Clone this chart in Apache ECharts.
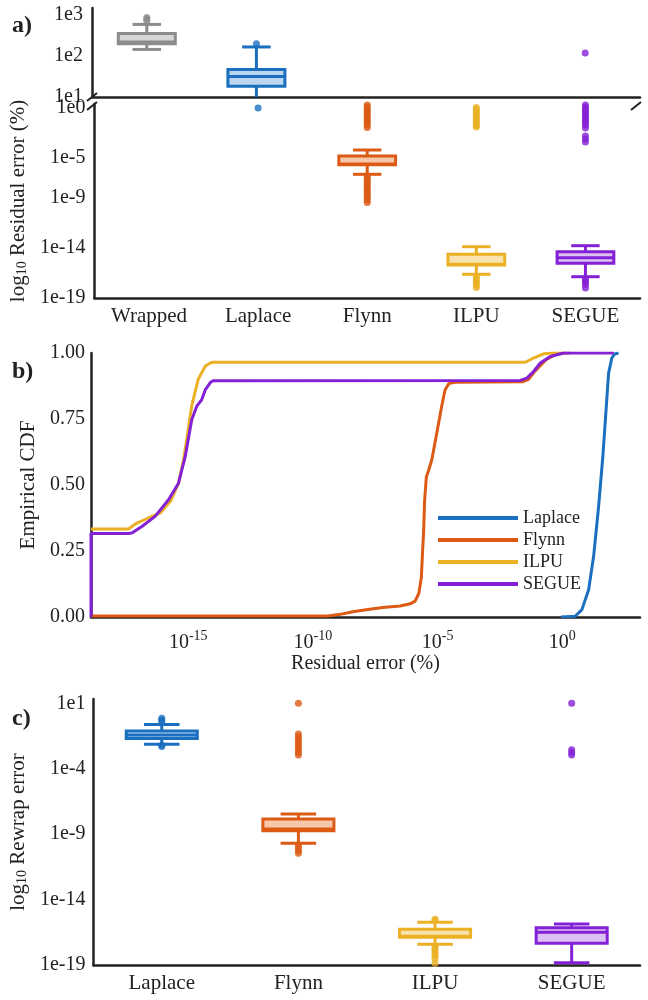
<!DOCTYPE html>
<html>
<head>
<meta charset="utf-8">
<title>Residual and rewrap error</title>
<script src="https://cdn.jsdelivr.net/npm/echarts@6/dist/echarts.min.js"></script>
<style>
  html, body { margin: 0; padding: 0; background: #fff; }
  #chart { width: 648px; height: 1000px; }
</style>
</head>
<body>
<div id="chart"></div>
<script>
// every value below is log10 of the error
const methodsA = ['Wrapped', 'Laplace', 'Flynn', 'ILPU', 'SEGUE'];
const methodsC = ['Laplace', 'Flynn', 'ILPU', 'SEGUE'];

// a) residual error, [low whisker, Q1, median, Q3, high whisker]
const residWrapped = [2.16, 2.30, 2.34, 2.55, 2.77];
const residLaplace = [0.7, 1.26, 1.50, 1.67, 2.22];
const residFlynn = [-6.63, -5.67, -5.6, -4.8, -4.2];
const residILPU = [-16.63, -15.7, -15.62, -14.63, -13.87];
const residSEGUE = [-16.87, -15.53, -14.97, -14.37, -13.77];

const residOutWrapped = [2.86, 2.90, 2.94];
const residOutLaplace = [2.30, 0.0];
const residOutFlynn = [0.3, 0.1, -0.1, -0.3, -0.5, -0.7, -0.9, -1.1, -1.3, -1.5, -1.7, -1.95,
  -6.8, -7.0, -7.2, -7.4, -7.6, -7.8, -8.0, -8.2, -8.4, -8.6, -8.8, -9.0, -9.2, -9.45];
const residOutILPU = [0.05, -0.15, -0.35, -0.55, -0.75, -0.95, -1.15, -1.35, -1.55, -1.75, -1.9,
  -16.9, -17.1, -17.3, -17.5, -17.7, -17.95];
const residOutSEGUE = [2.07, 0.3, 0.1, -0.1, -0.3, -0.5, -0.7, -0.9, -1.1, -1.3, -1.5, -1.7, -2.0,
  -2.8, -3.1, -3.4, -17.05, -17.25, -17.45, -17.65, -18.0];

// b) empirical CDF, x = log10 residual error
const cdfLaplaceX = [-0.05, 0.52, 0.79, 1.06, 1.26, 1.46, 1.63, 1.77, 1.86, 1.99, 2.1, 2.26];
const cdfLaplaceY = [0.0, 0.003, 0.028, 0.103, 0.23, 0.419, 0.608, 0.80, 0.924, 0.981, 0.996, 1.0];
const cdfFlynnX = [-18.9, -9.4, -8.9, -8.4, -7.8, -7.2, -6.5, -6.1, -5.9, -5.75, -5.65, -5.6, -5.56, -5.52,
  -5.45, -5.36, -5.23, -5.03, -4.83, -4.7, -4.55, -4.3, -1.6, -1.35, -1.15, -0.95, -0.65, -0.3, 0.1, 0.3];
const cdfFlynnY = [0.004, 0.004, 0.01, 0.02, 0.028, 0.036, 0.042, 0.05, 0.06, 0.09, 0.15, 0.25, 0.32, 0.44,
  0.53, 0.555, 0.596, 0.697, 0.80, 0.86, 0.884, 0.889, 0.891, 0.9, 0.925, 0.945, 0.975, 0.993, 1.0, 1.0];
const cdfILPUX = [-18.9, -17.4, -17.06, -16.6, -16.12, -15.7, -15.39, -15.2, -15.06, -14.86, -14.6, -14.32,
  -14.1, -13.99, -1.48, -1.15, -0.75, -0.35, 0.07];
const cdfILPUY = [0.333, 0.333, 0.356, 0.375, 0.394, 0.44, 0.507, 0.59, 0.672, 0.80, 0.9, 0.95,
  0.963, 0.965, 0.965, 0.981, 0.997, 1.0, 1.0];
const cdfSEGUEX = [-18.9, -18.9, -17.4, -17.26, -16.86, -16.33, -15.79, -15.39, -15.12, -14.86, -14.65, -14.46,
  -14.32, -14.1, -13.99, -1.68, -1.42, -1.15, -0.88, -0.48, 0.05, 2.07];
const cdfSEGUEY = [0.0, 0.316, 0.316, 0.318, 0.343, 0.381, 0.444, 0.507, 0.608, 0.747, 0.80, 0.823,
  0.86, 0.89, 0.895, 0.896, 0.905, 0.93, 0.962, 0.987, 1.0, 1.0];

// c) rewrap error
const rewrapLaplace = [-2.13, -1.68, -1.42, -1.12, -0.61];
const rewrapFlynn = [-9.70, -8.73, -8.6, -7.84, -7.46];
const rewrapILPU = [-17.42, -16.88, -16.8, -16.27, -15.74];
const rewrapSEGUE = [-18.82, -17.34, -16.5, -16.15, -15.87];

const rewrapOutLaplace = [-0.15, -0.28, -0.4, -2.2, -2.3];
const rewrapOutFlynn = [1.0, -1.35, -1.55, -1.75, -1.95, -2.15, -2.35, -2.55, -2.75, -2.95,
  -9.85, -10.05, -10.25, -10.45];
const rewrapOutILPU = [-15.5, -15.6, -17.55, -17.7, -17.85, -18.0, -18.15, -18.3, -18.5, -18.87];
const rewrapOutSEGUE = [1.0, -2.55, -2.75, -2.95];

const yTicksATop = [1, 2, 3];
const yTicksABottom = [0, -5, -9, -14, -19];
const xTicksB = [-15, -10, -5, 0];
const yTicksC = [1, -4, -9, -14, -19];

// stroke, box fill
const colors = {
  Wrapped: ['#8c8c8c', '#d6d6d6'],
  Laplace: ['#1a6fbf', '#bcd6ef'],
  Flynn: ['#dc5a14', '#f6c7ab'],
  ILPU: ['#ebb024', '#f8e2ae'],
  SEGUE: ['#8420d6', '#dcc0f3'],
};

const FONT = '"Liberation Serif", "DejaVu Serif", serif';
const INK = '#222';

function boxSeries(name, stats, axis, cats) {
  const [stroke, fill] = colors[name];
  return {
    type: 'custom',
    xAxisIndex: axis,
    yAxisIndex: axis,
    clip: true,
    z: 3,
    data: [[cats.indexOf(name)].concat(stats)],
    encode: { x: 0, y: [1, 2, 3, 4, 5] },
    renderItem: (params, api) => {
      const x = api.value(0);
      const lo = api.coord([x, api.value(1)]);
      const q1 = api.coord([x, api.value(2)]);
      const md = api.coord([x, api.value(3)]);
      const q3 = api.coord([x, api.value(4)]);
      const hi = api.coord([x, api.value(5)]);
      const band = api.size([1, 0])[0];
      const bw = band * 0.52;
      const cw = bw * 0.5;
      const cx = lo[0];
      const seg = (x1, y1, x2, y2) => ({
        type: 'line', shape: { x1, y1, x2, y2 }, style: { stroke, lineWidth: 3 },
      });
      return {
        type: 'group',
        children: [
          seg(cx, q3[1], cx, hi[1]),
          seg(cx - cw / 2, hi[1], cx + cw / 2, hi[1]),
          seg(cx, q1[1], cx, lo[1]),
          seg(cx - cw / 2, lo[1], cx + cw / 2, lo[1]),
          {
            type: 'rect',
            shape: { x: cx - bw / 2, y: q3[1], width: bw, height: q1[1] - q3[1] },
            style: { fill, stroke, lineWidth: 3 },
          },
          seg(cx - bw / 2, md[1], cx + bw / 2, md[1]),
        ],
      };
    },
  };
}

function outlierSeries(name, values, axis, cats) {
  return {
    type: 'scatter',
    xAxisIndex: axis,
    yAxisIndex: axis,
    symbolSize: 7,
    z: 4,
    itemStyle: { color: colors[name][0] },
    data: values.map((v) => [cats.indexOf(name), v]),
  };
}

function cdfSeries(name, xs, ys) {
  return {
    name,
    type: 'line',
    xAxisIndex: 2,
    yAxisIndex: 2,
    showSymbol: false,
    symbol: 'none',
    z: 3,
    color: colors[name][0],
    lineStyle: { width: 3, color: colors[name][0] },
    data: xs.map((x, i) => [x, ys[i]]),
  };
}

const axisLine = { show: true, onZero: false, lineStyle: { color: INK, width: 2.5 } };
const labelStyle = { color: INK, fontFamily: FONT, fontSize: 20 };
const subName = {
  rich: {
    base: { fontFamily: FONT, fontSize: 21, color: INK, verticalAlign: 'bottom' },
    sub: { fontFamily: FONT, fontSize: 14, color: INK, verticalAlign: 'top', padding: [9, 0, 0, 0] },
  },
};

const boxesA = [
  ['Wrapped', residWrapped, residOutWrapped],
  ['Laplace', residLaplace, residOutLaplace],
  ['Flynn', residFlynn, residOutFlynn],
  ['ILPU', residILPU, residOutILPU],
  ['SEGUE', residSEGUE, residOutSEGUE],
];
const boxesC = [
  ['Laplace', rewrapLaplace, rewrapOutLaplace],
  ['Flynn', rewrapFlynn, rewrapOutFlynn],
  ['ILPU', rewrapILPU, rewrapOutILPU],
  ['SEGUE', rewrapSEGUE, rewrapOutSEGUE],
];

const series = [];
[0, 1].forEach((axis) => {
  boxesA.forEach(([name, stats, outs]) => {
    series.push(boxSeries(name, stats, axis, methodsA));
    series.push(outlierSeries(name, outs, axis, methodsA));
  });
});
series.push(cdfSeries('Laplace', cdfLaplaceX, cdfLaplaceY));
series.push(cdfSeries('Flynn', cdfFlynnX, cdfFlynnY));
series.push(cdfSeries('ILPU', cdfILPUX, cdfILPUY));
series.push(cdfSeries('SEGUE', cdfSEGUEX, cdfSEGUEY));
boxesC.forEach(([name, stats, outs]) => {
  series.push(boxSeries(name, stats, 3, methodsC));
  series.push(outlierSeries(name, outs, 3, methodsC));
});

const chart = echarts.init(document.getElementById('chart'), null, { renderer: 'canvas' });

chart.setOption({
  animation: false,
  backgroundColor: '#fff',
  textStyle: { fontFamily: FONT, color: INK },
  grid: [
    { left: 92, right: 8, top: 8, height: 89 },
    { left: 92, right: 8, top: 104, height: 194 },
    { left: 91, right: 8, top: 353, height: 264 },
    { left: 90, right: 8, top: 699, height: 266 },
  ],
  xAxis: [
    {
      gridIndex: 0, type: 'category', data: methodsA,
      axisLine, axisTick: { show: false }, axisLabel: { show: false },
    },
    {
      gridIndex: 1, type: 'category', data: methodsA,
      axisLine, axisTick: { show: false },
      axisLabel: { ...labelStyle, fontSize: 21, margin: 8 },
    },
    {
      gridIndex: 2, type: 'value', min: -18.9, max: 3.12,
      axisLine, axisTick: { show: false }, splitLine: { show: false },
      axisLabel: {
        customValues: xTicksB,
        margin: 12,
        formatter: (v) => '{base|10}{sup|' + v + '}',
        rich: {
          base: { fontFamily: FONT, fontSize: 20, color: INK, verticalAlign: 'bottom' },
          sup: { fontFamily: FONT, fontSize: 14, color: INK, verticalAlign: 'bottom', padding: [0, 0, 10, 0] },
        },
      },
      name: 'Residual error (%)',
      nameLocation: 'middle',
      nameGap: 36,
      nameTextStyle: labelStyle,
    },
    {
      gridIndex: 3, type: 'category', data: methodsC,
      axisLine, axisTick: { show: false },
      axisLabel: { ...labelStyle, fontSize: 21, margin: 8 },
    },
  ],
  yAxis: [
    {
      gridIndex: 0, type: 'value', min: 1, max: 3.17,
      axisLine, axisTick: { show: false }, splitLine: { show: false },
      axisLabel: { ...labelStyle, margin: 9, customValues: yTicksATop, formatter: (v) => '1e' + v },
    },
    {
      gridIndex: 1, type: 'value', min: -19, max: 0.4,
      axisLine, axisTick: { show: false }, splitLine: { show: false },
      axisLabel: { ...labelStyle, margin: 9, customValues: yTicksABottom, formatter: (v) => '1e' + v },
      name: '{base|log}{sub|10}{base| Residual error (%)}',
      nameLocation: 'middle',
      nameGap: 64,
      nameTextStyle: subName,
    },
    {
      gridIndex: 2, type: 'value', min: 0, max: 1, interval: 0.25,
      axisLine, axisTick: { show: false }, splitLine: { show: false },
      axisLabel: { ...labelStyle, margin: 6, formatter: (v) => v.toFixed(2) },
      name: 'Empirical CDF',
      nameLocation: 'middle',
      nameGap: 43,
      nameTextStyle: { ...labelStyle, fontSize: 21 },
    },
    {
      gridIndex: 3, type: 'value', min: -19, max: 1.33,
      axisLine, axisTick: { show: false }, splitLine: { show: false },
      axisLabel: { ...labelStyle, margin: 8, customValues: yTicksC, formatter: (v) => '1e' + v },
      name: '{base|log}{sub|10}{base| Rewrap error}',
      nameLocation: 'middle',
      nameGap: 64,
      nameTextStyle: subName,
    },
  ],
  legend: {
    data: ['Laplace', 'Flynn', 'ILPU', 'SEGUE'],
    orient: 'vertical',
    left: 433,
    top: 504,
    icon: 'rect',
    itemWidth: 80,
    itemHeight: 4,
    itemGap: 4,
    textStyle: { fontFamily: FONT, fontSize: 18, color: INK },
  },
  graphic: [
    { type: 'text', left: 12, top: 14, style: { text: 'a)', font: 'bold 24px ' + FONT, fill: INK } },
    { type: 'text', left: 12, top: 360, style: { text: 'b)', font: 'bold 24px ' + FONT, fill: INK } },
    { type: 'text', left: 12, top: 707, style: { text: 'c)', font: 'bold 24px ' + FONT, fill: INK } },
    // axis break marks
    { type: 'line', shape: { x1: 87, y1: 101, x2: 97, y2: 93 }, style: { stroke: INK, lineWidth: 2 } },
    { type: 'line', shape: { x1: 87, y1: 110, x2: 97, y2: 102 }, style: { stroke: INK, lineWidth: 2 } },
    { type: 'line', shape: { x1: 631, y1: 110, x2: 641, y2: 102 }, style: { stroke: INK, lineWidth: 2 } },
  ],
  series,
});
</script>
</body>
</html>
